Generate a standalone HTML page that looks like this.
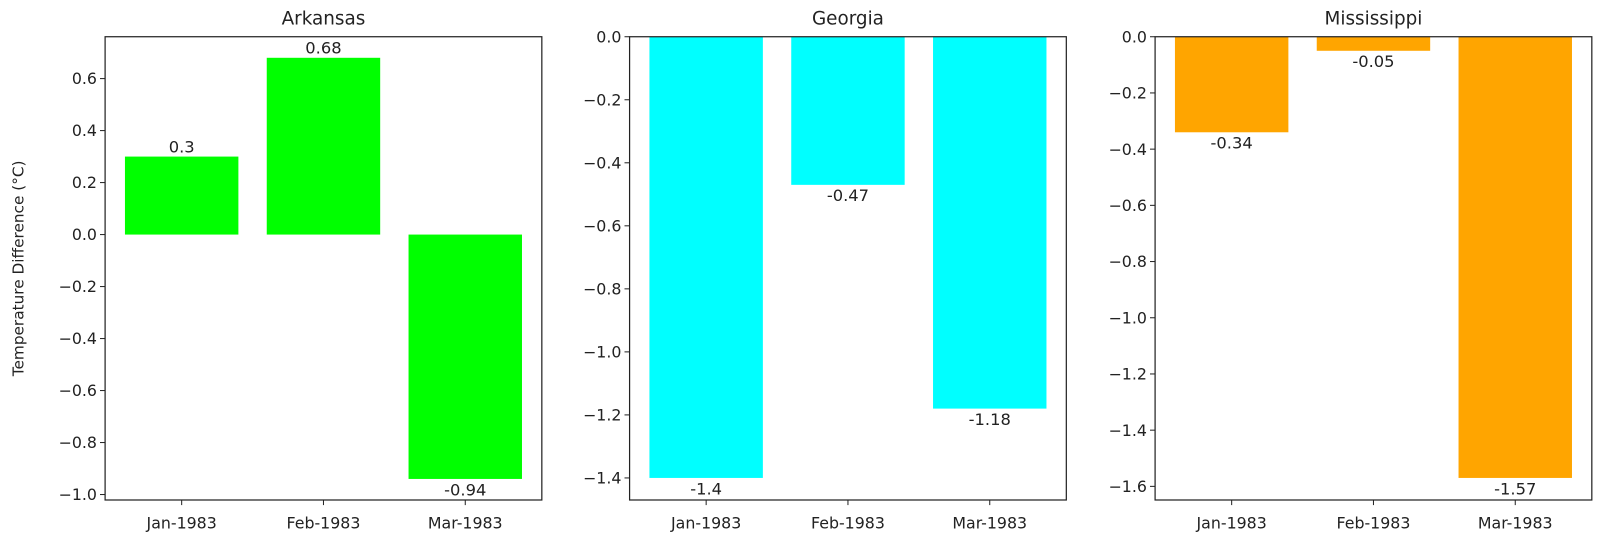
<!DOCTYPE html>
<html><head><meta charset="utf-8">
<style>
body{margin:0;background:#fff;}
svg{display:block;font-family:"DejaVu Sans","Liberation Sans",sans-serif;}
</style></head>
<body>
<svg width="1600" height="539" viewBox="0 0 1600 539" xmlns="http://www.w3.org/2000/svg"><g id="chart" transform="scale(1.0204)"></g></svg>
<script>
const categories = ["Jan-1983", "Feb-1983", "Mar-1983"];
const states = ["Arkansas", "Georgia", "Mississippi"];
const arkansasValues = [0.3, 0.68, -0.94];
const georgiaValues = [-1.4, -0.47, -1.18];
const mississippiValues = [-0.34, -0.05, -1.57];
const arkansasTicks = [0.6, 0.4, 0.2, 0.0, -0.2, -0.4, -0.6, -0.8, -1.0];
const georgiaTicks = [0.0, -0.2, -0.4, -0.6, -0.8, -1.0, -1.2, -1.4];
const mississippiTicks = [0.0, -0.2, -0.4, -0.6, -0.8, -1.0, -1.2, -1.4, -1.6];

const NS = "http://www.w3.org/2000/svg";
const svgEl = document.getElementById("chart");
function mk(tag, attrs, parent) {
  const e = document.createElementNS(NS, tag);
  for (const k in attrs) e.setAttribute(k, attrs[k]);
  (parent || svgEl).appendChild(e);
  return e;
}
const panels = [
  {left:103, values:arkansasValues, ticks:arkansasTicks, color:"#00ff00", name:"arkansas"},
  {left:617, values:georgiaValues, ticks:georgiaTicks, color:"#00ffff", name:"georgia"},
  {left:1132, values:mississippiValues, ticks:mississippiTicks, color:"#ffa500", name:"mississippi"}
];
const plotTop = 36, plotBottom = 490, plotWidth = 428;
panels.forEach((p, pi) => {
  const g = mk("g", {});
  
  
  let lo = Math.min(0, ...p.values), hi = Math.max(0, ...p.values);
  const span = hi - lo;
  if (lo < 0) lo -= span * 0.05;
  if (hi > 0) hi += span * 0.05;
  const y = v => plotTop + (hi - v) / (hi - lo) * (plotBottom - plotTop);
  const xmin = -0.54, xmax = categories.length - 1 + 0.54;
  const x = v => p.left + (v - xmin) / (xmax - xmin) * plotWidth;
  p.values.forEach((v, i) => {
    const y0 = y(Math.max(v, 0)), y1 = y(Math.min(v, 0));
    const r = mk("rect", {x:x(i - 0.4), y:y0, width:x(i + 0.4) - x(i - 0.4), height:Math.max(y1 - y0, 0.5), fill:p.color}, g);
    
    
    const ty = v >= 0 ? y(v) - 4 : y(v) + 16;
    const t = mk("text", {x:x(i), y:ty, "text-anchor":"middle", "font-size":"16", fill:"#222"}, g);
    t.textContent = String(v);
    
    
  });
  const f = mk("rect", {x:p.left, y:plotTop, width:plotWidth, height:plotBottom - plotTop, fill:"none", stroke:"#222", "stroke-width":"1.2"}, g);
  
  
  p.ticks.forEach(tv => {
    const yy = y(tv);
    mk("line", {x1:p.left - 5, x2:p.left, y1:yy, y2:yy, stroke:"#222", "stroke-width":"1"}, g);
    const t = mk("text", {x:p.left - 8, y:yy + 5.5, "text-anchor":"end", "font-size":"15.5", fill:"#222"}, g);
    t.textContent = tv.toFixed(1).replace("-", "\u2212");
    
    
  });
  categories.forEach((c, i) => {
    mk("line", {x1:x(i), x2:x(i), y1:plotBottom, y2:plotBottom + 5, stroke:"#222", "stroke-width":"1"}, g);
    const t = mk("text", {x:x(i), y:plotBottom + 28, "text-anchor":"middle", "font-size":"15.5", fill:"#222"}, g);
    t.textContent = c;
    
    
  });
  const ti = mk("text", {x:p.left + plotWidth / 2, y:24, "text-anchor":"middle", "font-size":"18", fill:"#222"}, g);
  ti.textContent = states[pi];
  
  
});
const yl = mk("text", {x:0, y:0, transform:"translate(23,263) rotate(-90)", "text-anchor":"middle", "font-size":"15", fill:"#222"});
yl.textContent = "Temperature Difference (°C)";


</script>
</body></html>
